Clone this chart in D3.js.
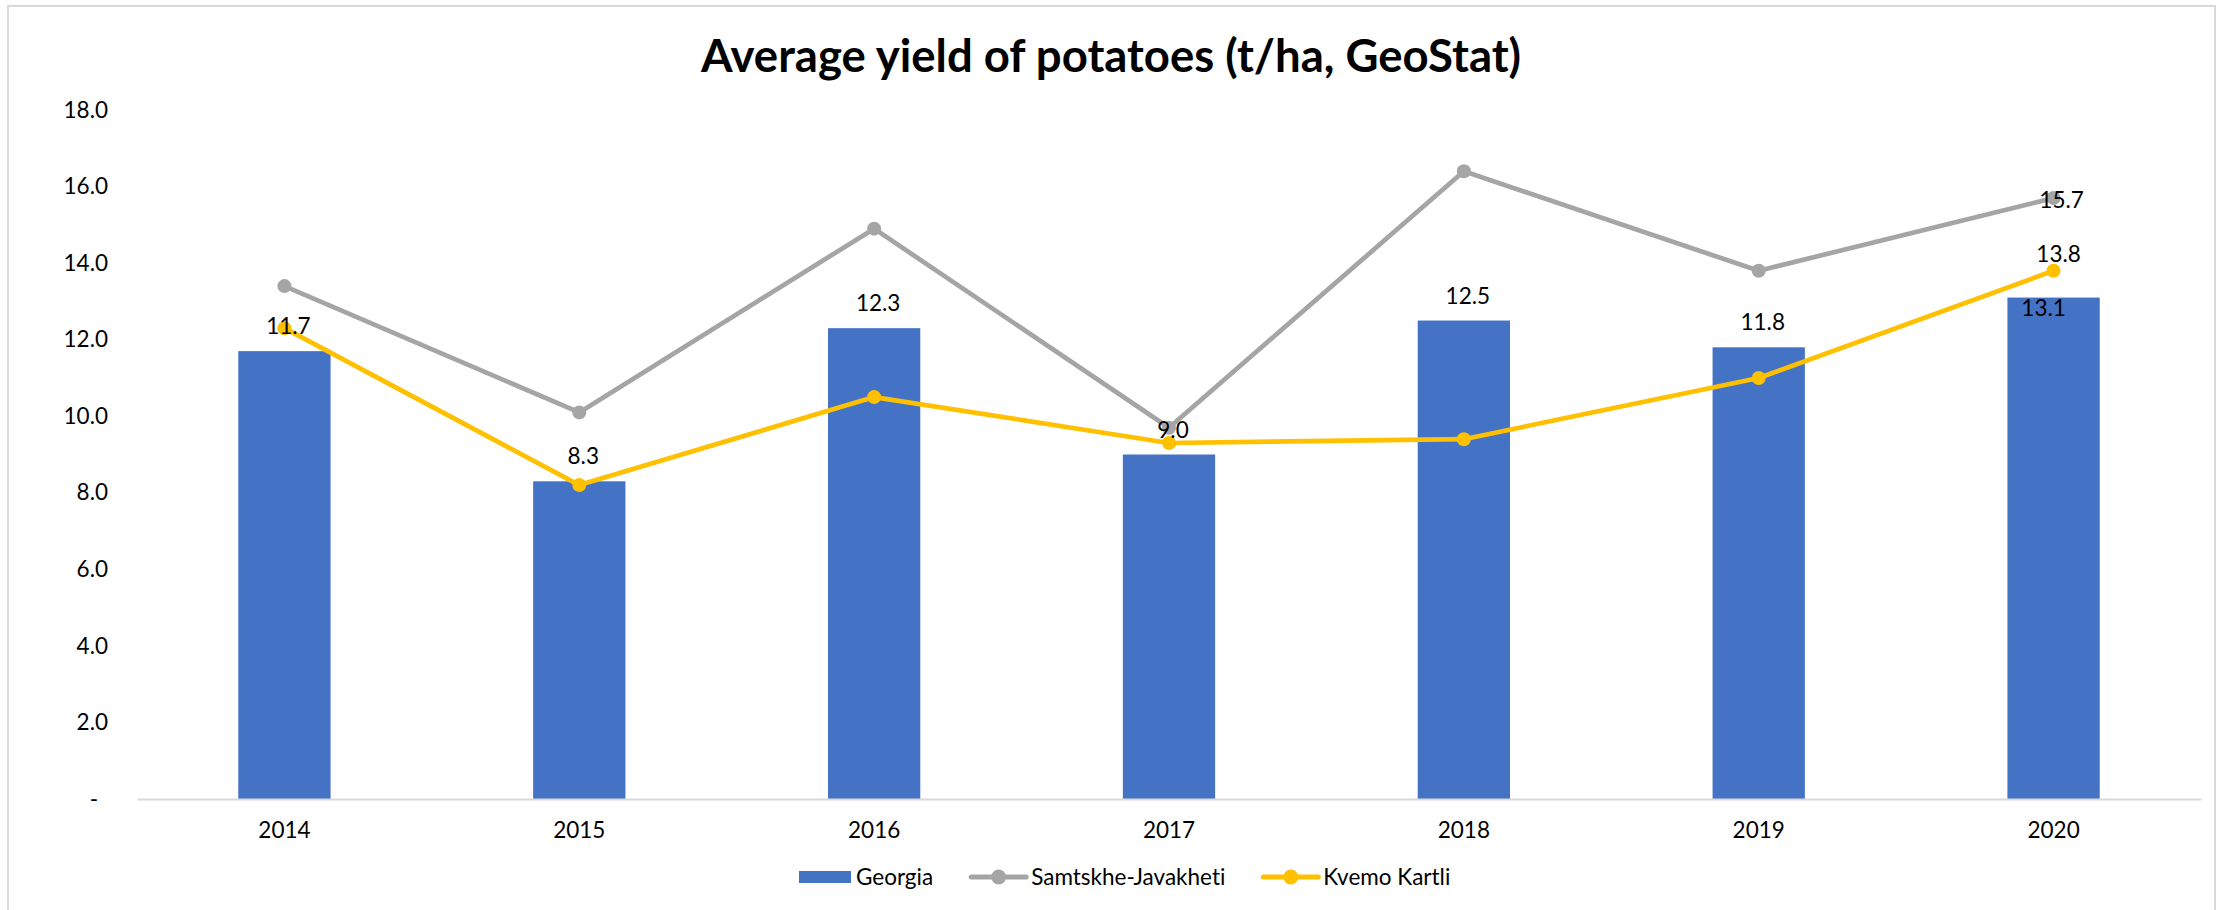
<!DOCTYPE html>
<html>
<head>
<meta charset="utf-8">
<script src="https://cdn.jsdelivr.net/npm/d3@7"></script>
<style>
  html, body { margin: 0; padding: 0; background: #ffffff; }
  svg { display: block; }
  text { font-family: Lato, "Open Sans", sans-serif; fill: #000; font-variant-ligatures: none; font-feature-settings: "liga" 0, "clig" 0; }
</style>
</head>
<body>
<svg id="chart" width="2221" height="910"></svg>
<script>
// ---- data ----
const years = ["2014", "2015", "2016", "2017", "2018", "2019", "2020"];
const georgia = [11.7, 8.3, 12.3, 9.0, 12.5, 11.8, 13.1];
const samtskhe = [13.4, 10.1, 14.9, 9.7, 16.4, 13.8, 15.7];
const kvemo = [12.3, 8.2, 10.5, 9.3, 9.4, 11.0, 13.8];
const yTicks = [0, 2, 4, 6, 8, 10, 12, 14, 16, 18];
const seriesNames = ["Georgia", "Samtskhe-Javakheti", "Kvemo Kartli"];
const titleText = "Average yield of potatoes (t/ha, GeoStat)";

// ---- layout / style ----
const W = 2221, H = 910;
const plot = { left: 137, right: 2201, top: 110, bottom: 799 };
const colors = { bar: "#4472C4", gray: "#A5A5A5", yellow: "#FFC000", axis: "#D9D9D9" };
const fs = 22.5;

const svg = d3.select("#chart");
svg.append("rect").attr("x", 0).attr("y", 0).attr("width", W).attr("height", H).attr("fill", "#fff");
// chart area border
svg.append("rect").attr("x", 8).attr("y", 6).attr("width", 2207).attr("height", 920)
  .attr("fill", "none").attr("stroke", colors.axis).attr("stroke-width", 2);

const x = d3.scaleBand().domain(years).range([plot.left, plot.right]).padding(0);
const y = d3.scaleLinear().domain([0, 18]).range([plot.bottom, plot.top]);
const cx = d => x(d) + x.bandwidth() / 2;
const barW = x.bandwidth() * 0.313;

// title
svg.append("text")
  .attr("x", 1111).attr("y", 72)
  .attr("text-anchor", "middle")
  .style("font-size", "45.5px").style("font-weight", "bold")
  .text(titleText);

// y axis
const yAxis = d3.axisLeft(y).tickValues(yTicks).tickSize(0).tickPadding(29)
  .tickFormat(v => v === 0 ? "-" : d3.format(".1f")(v));
const gy = svg.append("g").attr("transform", `translate(${plot.left},0)`).call(yAxis);
gy.select(".domain").remove();
gy.selectAll("text").style("font-size", fs + "px").style("font-family", "Lato, sans-serif").attr("fill", "#000");
gy.selectAll(".tick").filter(d => d === 0).select("text").attr("x", -39);

// bars
svg.append("g").selectAll("rect").data(years).join("rect")
  .attr("x", d => cx(d) - barW / 2)
  .attr("y", (d, i) => y(georgia[i]))
  .attr("width", barW)
  .attr("height", (d, i) => y(0) - y(georgia[i]))
  .attr("fill", colors.bar);

// x axis
const xAxis = d3.axisBottom(x).tickSize(0).tickPadding(23);
const gx = svg.append("g").attr("transform", `translate(0,${plot.bottom})`).call(xAxis);
gx.select(".domain").attr("stroke", colors.axis).attr("stroke-width", 2);
gx.selectAll("text").style("font-size", fs + "px").style("font-family", "Lato, sans-serif").attr("fill", "#000");

// lines
const line = d3.line().x((d, i) => cx(years[i])).y(d => y(d));
[[samtskhe, colors.gray], [kvemo, colors.yellow]].forEach(([vals, c]) => {
  svg.append("path").datum(vals).attr("d", line)
    .attr("fill", "none").attr("stroke", c).attr("stroke-width", 4.7)
    .attr("stroke-linejoin", "round").attr("stroke-linecap", "round");
  svg.append("g").selectAll("circle").data(vals).join("circle")
    .attr("cx", (d, i) => cx(years[i])).attr("cy", d => y(d)).attr("r", 7)
    .attr("fill", c);
});

// data labels
const labels = svg.append("g").style("font-size", fs + "px");
const last = years.length - 1;
georgia.forEach((v, i) => {
  const inside = i === last;
  labels.append("text")
    .attr("x", cx(years[i]) + (inside ? -10 : 4))
    .attr("y", y(v) + (inside ? 10 : -25))
    .attr("dy", "0.36em").attr("text-anchor", "middle")
    .text(d3.format(".1f")(v));
});
labels.append("text")
  .attr("x", cx(years[last]) + 8).attr("y", y(samtskhe[last]) + 2)
  .attr("dy", "0.36em").attr("text-anchor", "middle")
  .text(d3.format(".1f")(samtskhe[last]));
labels.append("text")
  .attr("x", cx(years[last]) + 5).attr("y", y(kvemo[last]) - 17)
  .attr("dy", "0.36em").attr("text-anchor", "middle")
  .text(d3.format(".1f")(kvemo[last]));

// legend
const lg = svg.append("g").attr("transform", "translate(799,877)");
let lx = 0;
seriesNames.forEach((name, i) => {
  const g = lg.append("g").attr("transform", `translate(${lx},0)`);
  if (i === 0) {
    g.append("rect").attr("x", 0).attr("y", -6).attr("width", 52).attr("height", 12).attr("fill", colors.bar);
  } else {
    const c = i === 1 ? colors.gray : colors.yellow;
    g.append("line").attr("x1", 0).attr("x2", 55).attr("y1", 0).attr("y2", 0)
      .attr("stroke", c).attr("stroke-width", 5).attr("stroke-linecap", "round");
    g.append("circle").attr("cx", 27.5).attr("cy", 0).attr("r", 7.5).attr("fill", c);
  }
  const tx = i === 0 ? 57 : 60;
  const t = g.append("text").attr("x", tx).attr("y", 0).attr("dy", "0.36em")
    .style("font-size", fs + "px").text(name);
  const tw = t.node().getComputedTextLength();
  lx += tx + tw + 38;
});
</script>
</body>
</html>
